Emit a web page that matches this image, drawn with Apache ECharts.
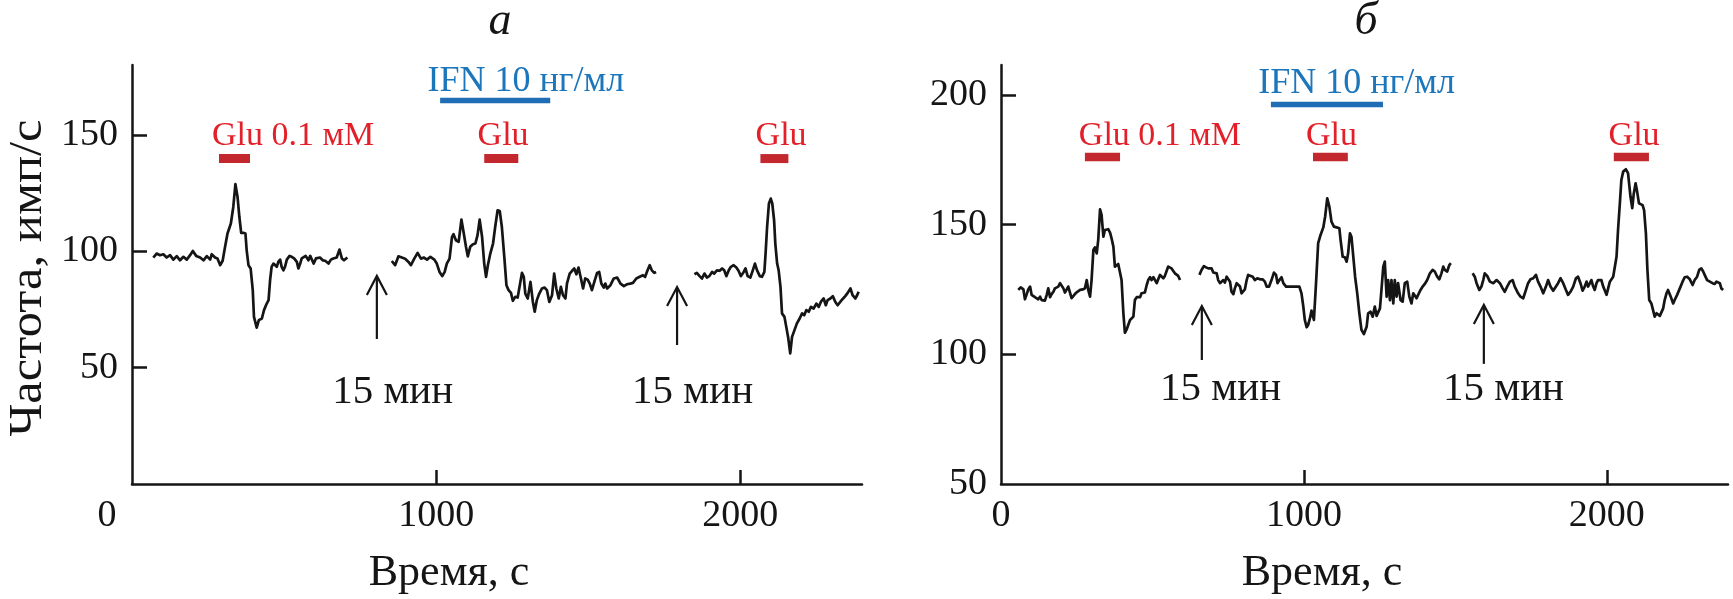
<!DOCTYPE html>
<html><head><meta charset="utf-8">
<script src="https://cdn.jsdelivr.net/npm/echarts@6/dist/echarts.min.js"></script>
<style>html,body{margin:0;padding:0;background:#fff}#c{width:1733px;height:599px}</style>
</head><body><div id="c"></div>
<script>
// ---- Panel а: trace segments [time s, rate imp/s]
const traceA1 = [[70,97.3],[81,99],[92,98.3],[103,98.7],[114,97.3],[125,98.3],[136,96.4],[147,97.9],[158,96.1],[169,97.6],[180,96.4],[191,98.3],[200,100.1],[211,98],[224,97.3],[235,96.1],[246,97.9],[257,96.4],[262,98.7],[273,97.3],[281,96.9],[290,94],[298,95.9],[306,101.9],[314,107.6],[325,111.9],[333,119],[340,128.8],[347,123.3],[353,114.7],[359,107.9],[366,107.9],[373,107.6],[377,100.4],[383,94],[390,92.6],[397,83.3],[401,71.8],[410,67.2],[417,70.4],[427,71.1],[434,74.7],[443,77.5],[449,79],[454,87.6],[459,93.3],[465,94.7],[470,94],[476,93.3],[481,95.4],[487,96.4],[492,93.3],[498,91.8],[503,93.3],[509,96.4],[518,98],[525,97.6],[533,96.9],[542,95.4],[547,92.6],[553,94.7],[558,96.9],[564,96.4],[571,98],[580,96.1],[586,98],[597,94.7],[605,96.9],[618,97.3],[627,96.1],[635,95.9],[646,94.7],[654,96.4],[662,96.9],[673,97.3],[682,100.7],[690,96.9],[697,96.1],[708,97.3]];
const traceA2 = [[854,95.8],[865,94],[876,97.8],[887,97.3],[898,96.8],[909,95.4],[917,94],[928,96.8],[939,99.3],[950,96.8],[959,97.3],[970,96.4],[981,97.6],[994,96.4],[1002,94.7],[1011,91.1],[1020,89.3],[1028,91.1],[1035,94.7],[1044,96.8],[1052,106.1],[1057,107.3],[1065,104.7],[1074,104],[1083,113.6],[1090,108.3],[1098,101.9],[1104,97.8],[1112,101.9],[1121,103],[1129,103.3],[1136,106.9],[1143,113.6],[1151,106.1],[1158,94.7],[1164,89],[1170,94],[1178,99],[1187,103.3],[1194,110.4],[1202,117.6],[1209,117.3],[1216,110.4],[1224,97.6],[1231,85.4],[1238,83.3],[1246,82.1],[1252,78.7],[1260,80.4],[1268,80.1],[1274,80.7],[1282,90.7],[1288,89],[1293,81.8],[1301,79.7],[1310,86.8],[1318,78.2],[1324,74],[1331,79],[1339,81.8],[1348,84],[1356,84.4],[1364,83.3],[1372,78.2],[1381,81.1],[1388,90.4],[1395,84],[1403,79.7],[1410,84.7],[1417,81.1],[1425,79.7],[1430,86.1],[1439,90.4],[1447,91.6],[1454,92.6],[1461,90.1],[1468,93],[1476,88.3],[1483,84],[1490,88.3],[1498,87.8],[1505,86.1],[1512,83.3],[1520,86.8],[1529,90.7],[1536,91.1],[1543,86.1],[1551,84.4],[1556,86.1],[1562,84],[1573,85.4],[1584,88.3],[1595,88.7],[1606,86.1],[1617,85],[1627,85.8],[1638,86.1],[1647,86.4],[1658,88.3],[1669,89],[1680,89.7],[1687,89],[1695,91.8],[1702,94],[1709,91.8],[1717,90.7],[1723,91.1]];
const traceA3 = [[1849,90.1],[1857,90.7],[1866,89.3],[1874,88.3],[1882,90.4],[1890,88.7],[1898,89.3],[1907,91.1],[1914,90.4],[1923,91.8],[1932,91.6],[1940,92.6],[1947,91.8],[1954,89.3],[1962,91.8],[1969,93.3],[1978,94],[1987,93],[1994,91.6],[2002,89.3],[2011,91.1],[2017,92.6],[2024,89.3],[2033,88.7],[2041,91.8],[2048,94.7],[2055,91.8],[2064,89.3],[2071,89],[2079,91.1],[2083,99],[2088,110.4],[2094,120.5],[2100,122.6],[2105,120.5],[2111,113.3],[2115,103.3],[2121,94.7],[2126,91.8],[2132,84.7],[2137,73.3],[2145,71.8],[2151,67.5],[2157,63.2],[2164,56.1],[2170,63.2],[2178,66.1],[2186,69],[2195,71.1],[2203,73.3],[2210,72.5],[2217,74.7],[2225,74],[2232,76.1],[2241,75.4],[2250,77.5],[2258,76.1],[2265,78.3],[2274,79.7],[2281,76.8],[2287,79],[2296,79.7],[2304,80.7],[2312,78.3],[2320,76.8],[2329,78.3],[2338,79.7],[2345,80.7],[2353,82.1],[2362,84],[2369,81.1],[2378,79.7],[2384,81.1],[2389,82.6]];

// ---- Panel б
const traceB1 = [[57,124.8],[65,125.8],[74,125],[79,121.2],[85,123.2],[90,125],[96,126.1],[101,122.9],[107,122.2],[112,122],[118,122.5],[123,121.2],[129,122.2],[134,120.9],[140,121.2],[145,120.7],[151,122.9],[156,125.4],[162,122],[167,123.2],[173,124.1],[178,125.4],[184,124.8],[189,126.1],[195,127.4],[200,127.6],[206,125.4],[211,123.8],[217,125],[222,126.1],[228,125.4],[233,121.6],[239,120.9],[244,123.2],[252,124.1],[261,124.8],[270,125],[277,125.4],[283,128.6],[288,124.8],[294,122.2],[299,128.6],[305,140.2],[310,141.2],[316,138.9],[321,144.1],[327,155.9],[332,153.7],[338,145.3],[343,147.9],[349,148.2],[354,148.2],[360,146.9],[365,144.7],[371,141.5],[376,133.8],[382,133.8],[387,134.8],[393,134.4],[398,128.6],[404,115.8],[409,108.3],[415,109.6],[420,111.3],[426,113.2],[431,113.5],[437,114.5],[442,120.9],[448,122],[453,122.2],[459,122],[464,123.5],[470,123.2],[475,123.8],[481,126.7],[486,128.6],[492,129.7],[497,128.6],[503,129.7],[508,129.9],[514,127.4],[519,128.9],[525,130.6],[530,131.2],[536,129.3],[541,130.2],[547,132.2],[552,133.8],[558,133.1],[563,133.1],[569,132.5],[574,131.2],[580,130.6],[585,130.2],[591,128.6]];
const traceB2 = [[655,130.6],[662,132.5],[670,134],[677,133.5],[684,133.1],[690,133.8],[695,133.1],[701,131.5],[706,132.2],[712,131.2],[717,128.6],[723,127.4],[728,127.6],[734,128.6],[739,127.6],[745,129.9],[750,130.6],[756,128],[761,124.1],[767,123.2],[772,125.4],[778,127.4],[783,128],[789,126.1],[794,123.5],[800,122.9],[805,125],[811,128.6],[816,130.6],[822,131.2],[831,129.9],[838,128.6],[846,129.3],[855,128.9],[864,128.9],[871,128],[877,126.1],[885,126.1],[893,128.6],[901,131.5],[908,130.6],[913,127.4],[919,128.6],[926,129.7],[932,127.4],[941,126.1],[948,126.1],[959,126.1],[970,126.1],[985,126.1],[992,123.5],[998,118.4],[1003,113.2],[1009,110.4],[1014,111.3],[1020,113.9],[1025,116.8],[1033,113.2],[1040,127.4],[1047,142.8],[1055,146],[1064,148.9],[1070,153],[1077,160.1],[1084,156.9],[1091,151.1],[1099,149.2],[1108,148.9],[1117,148.6],[1121,144.1],[1128,137.6],[1135,137.4],[1141,135.7],[1146,138.9],[1152,146.6],[1157,145.3],[1163,137.6],[1169,129.9],[1176,123.5],[1183,115.8],[1190,109.4],[1198,107.8],[1207,110.6],[1212,115.8],[1220,116.4],[1227,114.5],[1234,118.4],[1240,114.8],[1245,114.5],[1251,117.7],[1256,124.8],[1262,133.8],[1267,135.7],[1273,122.2],[1278,128.6],[1284,120.9],[1289,128.6],[1295,119.6],[1300,128.6],[1306,122.2],[1311,127.4],[1319,120.9],[1326,120.3],[1333,127.4],[1341,128],[1348,122.2],[1355,119.6],[1361,123.5],[1366,124.1],[1372,121.6],[1377,122.9],[1385,124.8],[1392,126.1],[1399,127.1],[1407,128.6],[1416,131.2],[1425,132.5],[1432,131.9],[1440,129.9],[1447,128.9],[1454,131.2],[1460,133.8],[1465,132.5],[1473,131.9],[1480,134.4],[1485,135.1]];
const traceB3 = [[1557,131.2],[1564,129.9],[1570,127.4],[1579,124.8],[1586,126.1],[1592,128.6],[1597,131.2],[1605,130.2],[1614,128],[1625,127.4],[1636,128.6],[1647,127.4],[1656,125.4],[1663,124.1],[1671,126.1],[1680,128],[1689,128.6],[1696,126.1],[1707,123.5],[1715,122.2],[1724,121.6],[1733,124.8],[1740,127.4],[1748,128.9],[1757,129.3],[1766,130.6],[1773,128],[1781,126.1],[1790,123.5],[1799,126.1],[1806,128.6],[1814,126.1],[1823,124.5],[1832,126.1],[1839,127.4],[1847,129.3],[1856,127.4],[1865,124.8],[1872,122.9],[1880,124.1],[1889,126.1],[1898,129.3],[1905,129.9],[1913,127.4],[1920,124.5],[1927,126.1],[1933,128],[1938,126.1],[1944,127.4],[1949,128.6],[1955,126.1],[1960,124.8],[1966,127.4],[1971,128.6],[1977,129.3],[1982,128.6],[1988,126.1],[1993,125.4],[1999,122.9],[2004,122.2],[2010,128],[2015,128.6],[2021,129.9],[2026,130.6],[2032,137.6],[2037,147.9],[2043,158.2],[2048,167.2],[2054,170.4],[2063,171.3],[2070,169.8],[2078,160.8],[2084,156.3],[2089,162],[2095,165.9],[2100,162.7],[2106,158.2],[2111,158.2],[2118,157.5],[2123,155.6],[2129,146.6],[2134,132.5],[2140,120.9],[2147,119.6],[2153,119],[2158,114.5],[2164,115.8],[2169,115.1],[2175,114.8],[2180,115.1],[2186,117.7],[2191,120.9],[2197,123.5],[2202,124.8],[2210,122.5],[2219,119.6],[2224,120.9],[2232,122.9],[2241,125.4],[2250,128],[2257,129.7],[2265,129.9],[2274,128.9],[2283,126.7],[2290,128.6],[2298,129.9],[2305,132.5],[2312,133.1],[2318,131.9],[2323,130.6],[2331,128.6],[2340,128],[2349,127.4],[2356,127.1],[2362,128],[2367,128.6],[2373,127.4],[2378,125.4],[2384,124.8]];

// ---- Axis ticks / ranges
const xLabelValues = [0, 1000, 2000];
const xTickValues = [1000, 2000];
const yLabelsA = [50, 100, 150];
const yLabelsB = [50, 100, 150, 200];
const yTicksB = [100, 150, 200];

// ---- Annotations (data coordinates)
const gluBarsA = [[286, 388], [1158, 1270], [2066, 2158]];
const gluBarYA = 139.8;
const ifnBarA = [[1013, 1375]];
const ifnBarYA = 164.7;
const gluBarsB = [[277, 393], [1030, 1145], [2023, 2139]];
const gluBarYB = 176.0;
const ifnBarB = [[891, 1261]];
const ifnBarYB = 196.3;

const arrowsA = [[805, 62.3, 89.4], [1792, 59.7, 84.6]];
const arrowsB = [[663, 97.8, 118.6], [1594, 96.3, 119.0]];

const redTextsA = [{x: 263, y: 149.5, text: 'Glu 0.1 мМ', align: 'left'}, {x: 1220, y: 149.5, text: 'Glu'}, {x: 2134, y: 149.5, text: 'Glu'}];
const blueTextsA = [{x: 1295, y: 173.1, text: 'IFN 10 нг/мл'}];
const minTextsA = [{x: 658, y: 39.5, text: '15 мин', align: 'left'}, {x: 1644, y: 39.5, text: '15 мин', align: 'left'}];
const redTextsB = [{x: 257, y: 184.1, text: 'Glu 0.1 мМ', align: 'left'}, {x: 1091, y: 184.1, text: 'Glu'}, {x: 2090, y: 184.1, text: 'Glu'}];
const blueTextsB = [{x: 1174, y: 204.2, text: 'IFN 10 нг/мл'}];
const minTextsB = [{x: 525, y: 86.6, text: '15 мин', align: 'left'}, {x: 1459, y: 86.6, text: '15 мин', align: 'left'}];

const FONT = '"Liberation Serif", "Times New Roman", serif';
const BLACK = '#151515';
const RED_T = '#e2202a';
const RED_B = '#c2282e';
const BLUE_T = '#1c76bc';
const BLUE_B = '#1f6db5';

function traceSeries(gi, data) {
  return {type: 'line', xAxisIndex: gi, yAxisIndex: gi, data: data, symbol: 'none', showSymbol: false,
    lineStyle: {color: BLACK, width: 2.7, join: 'round'}, silent: true, animation: false};
}
function barSeries(gi, bars, y, color, w) {
  return {type: 'custom', xAxisIndex: gi, yAxisIndex: gi, silent: true, clip: false, animation: false,
    data: bars.map(b => [b[0], b[1], y]), encode: {x: [0, 1], y: 2},
    renderItem: (params, api) => {
      const a = api.coord([api.value(0), api.value(2)]);
      const b = api.coord([api.value(1), api.value(2)]);
      return {type: 'line', shape: {x1: a[0], y1: a[1], x2: b[0], y2: b[1]}, style: {stroke: color, lineWidth: w}};
    }};
}
function arrowSeries(gi, arrows) {
  return {type: 'custom', xAxisIndex: gi, yAxisIndex: gi, silent: true, clip: false, animation: false,
    data: arrows, encode: {x: 0, y: [1, 2]},
    renderItem: (params, api) => {
      const b = api.coord([api.value(0), api.value(1)]);
      const t = api.coord([api.value(0), api.value(2)]);
      return {type: 'group', children: [
        {type: 'line', shape: {x1: b[0], y1: b[1], x2: t[0], y2: t[1] + 1}, style: {stroke: BLACK, lineWidth: 2.2}},
        {type: 'polyline', shape: {points: [[t[0] - 10, t[1] + 19], [t[0], t[1]], [t[0] + 10, t[1] + 19]]},
          style: {stroke: BLACK, lineWidth: 2.2, fill: 'none'}}
      ]};
    }};
}
function textSeries(gi, items, color, size) {
  return {type: 'custom', xAxisIndex: gi, yAxisIndex: gi, silent: true, clip: false, animation: false,
    data: items.map(t => [t.x, t.y]), encode: {x: 0, y: 1},
    renderItem: (params, api) => {
      const it = items[params.dataIndex];
      const p = api.coord([api.value(0), api.value(1)]);
      return {type: 'text', x: p[0], y: p[1], style: {text: it.text, fill: color,
        font: size + 'px ' + FONT, align: it.align || 'center', verticalAlign: 'middle'}};
    }};
}

const axisLineStyle = {color: BLACK, width: 2.5};
function xAxisDef(gi, shiftZero) {
  return {type: 'value', gridIndex: gi, min: 0, max: 2400,
    axisLine: {show: true, lineStyle: axisLineStyle},
    axisTick: {show: true, inside: true, length: 14, lineStyle: {color: BLACK, width: 2.5}, customValues: xTickValues},
    axisLabel: {show: true, customValues: xLabelValues, margin: 13, color: BLACK, fontFamily: FONT, fontSize: 38,
      formatter: v => (v === 0 && shiftZero) ? '{z|0}' : String(v),
      rich: {z: {fontFamily: FONT, fontSize: 38, color: BLACK, padding: [0, 50, 0, 0]}}},
    splitLine: {show: false}};
}
function yAxisDef(gi, min, max, labels, ticks) {
  return {type: 'value', gridIndex: gi, min: min, max: max,
    axisLine: {show: true, lineStyle: axisLineStyle},
    axisTick: {show: true, inside: true, length: 15, lineStyle: {color: BLACK, width: 2.5}, customValues: ticks},
    axisLabel: {show: true, customValues: labels, margin: 14, color: BLACK, fontFamily: FONT, fontSize: 38},
    splitLine: {show: false}};
}

const chart = echarts.init(document.getElementById('c'), null, {renderer: 'canvas'});
chart.setOption({
  animation: false,
  backgroundColor: '#fff',
  grid: [
    {left: 132, top: 65, width: 730, height: 419},
    {left: 1001, top: 65, width: 727, height: 419}
  ],
  xAxis: [xAxisDef(0, true), xAxisDef(1, false)],
  yAxis: [yAxisDef(0, 0, 180, yLabelsA, yLabelsA), yAxisDef(1, 50, 211.5, yLabelsB, yTicksB)],
  graphic: [
    {type: 'text', x: 500, y: 22, style: {text: 'а', font: 'italic 46px ' + FONT, fill: BLACK, align: 'center', verticalAlign: 'middle'}},
    {type: 'text', x: 1366, y: 22, style: {text: 'б', font: 'italic 46px ' + FONT, fill: BLACK, align: 'center', verticalAlign: 'middle'}},
    {type: 'text', x: 449, y: 573, style: {text: 'Время, с', font: '44px ' + FONT, fill: BLACK, align: 'center', verticalAlign: 'middle'}},
    {type: 'text', x: 1322, y: 573, style: {text: 'Время, с', font: '44px ' + FONT, fill: BLACK, align: 'center', verticalAlign: 'middle'}},
    {type: 'text', x: 29, y: 278, rotation: Math.PI / 2, scaleX: 1.1,
      style: {text: 'Частота, имп/с', font: '46px ' + FONT, fill: BLACK, align: 'center', verticalAlign: 'middle'}}
  ],
  series: [
    traceSeries(0, traceA1), traceSeries(0, traceA2), traceSeries(0, traceA3),
    traceSeries(1, traceB1), traceSeries(1, traceB2), traceSeries(1, traceB3),
    barSeries(0, gluBarsA, gluBarYA, RED_B, 9), barSeries(0, ifnBarA, ifnBarYA, BLUE_B, 5.5),
    barSeries(1, gluBarsB, gluBarYB, RED_B, 8.5), barSeries(1, ifnBarB, ifnBarYB, BLUE_B, 5.5),
    arrowSeries(0, arrowsA), arrowSeries(1, arrowsB),
    textSeries(0, redTextsA, RED_T, 34), textSeries(0, blueTextsA, BLUE_T, 36), textSeries(0, minTextsA, BLACK, 41),
    textSeries(1, redTextsB, RED_T, 34), textSeries(1, blueTextsB, BLUE_T, 36), textSeries(1, minTextsB, BLACK, 41)
  ]
});
</script>
</body></html>
